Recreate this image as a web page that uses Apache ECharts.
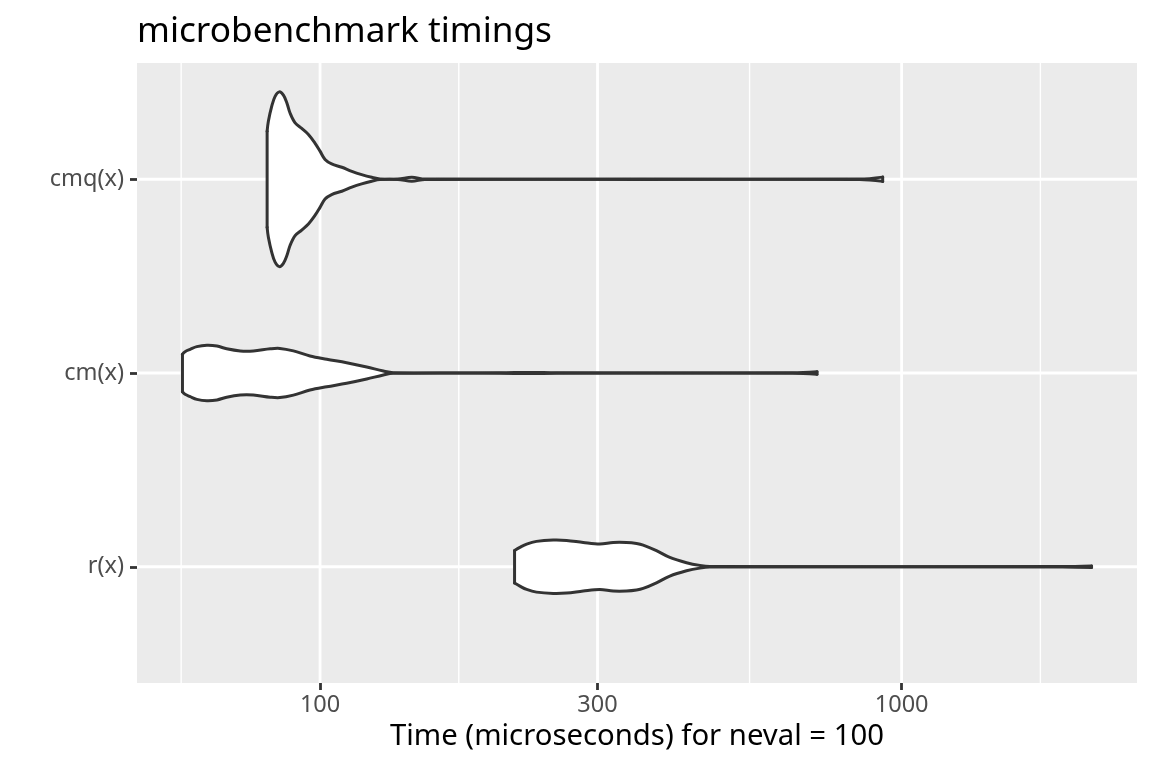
<!DOCTYPE html>
<html>
<head>
<meta charset="utf-8">
<script src="https://cdn.jsdelivr.net/npm/echarts@6/dist/echarts.min.js"></script>
<style>
  html, body { margin: 0; padding: 0; background: #ffffff; }
  #chart { width: 1152px; height: 768px; }
</style>
</head>
<body>
<div id="chart"></div>
<script>
// ---- data ----
const categories = ['r(x)', 'cm(x)', 'cmq(x)'];          // bottom to top
const xMajorBreaks = [100, 300, 1000];
const xTickLabels = ['100', '300', '1000'];
const xMinorBreaks = [57.7, 173.2, 547.7, 1732];

// times in microseconds, half widths in category units
const cmqTime = [81.1, 81.5, 82.6, 83.7, 85.1, 86.5, 87.7, 88.8, 90.6, 93.0, 95.5, 98.0, 100.0, 102.0, 104.7, 109.0, 113.4, 117.9, 122.7, 126.8, 136.1, 143.8, 151.5, 847, 927.7];
const cmqHalf = [0.248, 0.299, 0.377, 0.428, 0.451, 0.434, 0.394, 0.342, 0.291, 0.262, 0.231, 0.187, 0.145, 0.102, 0.079, 0.062, 0.041, 0.024, 0.010, 0.0015, 0.001, 0.010, 0.001, 0.001, 0.011];

const cmTime = [58.0, 58.6, 59.8, 61.4, 63.9, 66.5, 69.1, 72.9, 76.8, 82.1, 85.3, 90.0, 96.1, 102.7, 111.1, 120.3, 128.5, 133.6, 203.9, 229.6, 255, 649.6, 715.3];
const cmHalf = [0.097, 0.110, 0.122, 0.136, 0.143, 0.139, 0.125, 0.114, 0.114, 0.125, 0.127, 0.114, 0.088, 0.071, 0.053, 0.031, 0.010, 0.0015, 0.001, 0.003, 0.001, 0.001, 0.006];

const rTime = [216.0, 220.6, 226.6, 235.6, 251.7, 265.4, 283.5, 302.8, 319.2, 336.5, 350.1, 359.4, 378.8, 399.4, 426.7, 449.8, 468.0, 1891, 2121];
const rHalf = [0.084, 0.100, 0.117, 0.131, 0.138, 0.136, 0.125, 0.117, 0.125, 0.125, 0.120, 0.112, 0.083, 0.048, 0.021, 0.007, 0.0015, 0.001, 0.004];

// ---- build ----
const violins = [
  { cat: 'r(x)', time: rTime, half: rHalf },
  { cat: 'cm(x)', time: cmTime, half: cmHalf },
  { cat: 'cmq(x)', time: cmqTime, half: cmqHalf }
];
const lg = Math.log10;
const allT = [].concat(rTime, cmTime, cmqTime);
const lmin = lg(Math.min.apply(null, allT)), lmax = lg(Math.max.apply(null, allT));
const pad = 0.05 * (lmax - lmin);
const xMin = lmin - pad, xMax = lmax + pad;
const yMin = 0.4, yMax = categories.length + 0.6;
const catPos = c => categories.indexOf(c) + 1;

const gridLines = [];
xMinorBreaks.forEach(v => gridLines.push({ dir: 'x', v: lg(v), w: 1.4 }));
xMajorBreaks.forEach(v => gridLines.push({ dir: 'x', v: lg(v), w: 2.8 }));
categories.forEach(c => gridLines.push({ dir: 'y', v: catPos(c), w: 2.8 }));

const FONT = '"Noto Sans", "DejaVu Sans", sans-serif';
const STROKE = '#333333', LW = 3, SMOOTH = 0.35;
const chart = echarts.init(document.getElementById('chart'), null, { renderer: 'canvas' });
chart.setOption({
  animation: false,
  backgroundColor: '#ffffff',
  title: {
    text: 'microbenchmark timings',
    left: 132, top: 9,
    textStyle: { fontFamily: FONT, fontSize: 35.2, fontWeight: 'normal', color: '#000000' }
  },
  grid: { left: 137, right: 15, top: 63, bottom: 85, show: true, backgroundColor: '#EBEBEB', borderWidth: 0 },
  xAxis: {
    type: 'value', min: xMin, max: xMax,
    axisLine: { show: false },
    splitLine: { show: false },
    axisTick: { show: true, customValues: xMajorBreaks.map(lg), length: 7, lineStyle: { color: STROKE, width: 2.8 } },
    axisLabel: {
      customValues: xMajorBreaks.map(lg), margin: 10,
      fontFamily: FONT, fontSize: 23.5, color: '#4D4D4D',
      formatter: v => { const i = xMajorBreaks.findIndex(b => Math.abs(lg(b) - v) < 1e-6); return i >= 0 ? xTickLabels[i] : ''; }
    },
    name: 'Time (microseconds) for neval = 100',
    nameLocation: 'middle', nameGap: 38,
    nameTextStyle: { fontFamily: FONT, fontSize: 29.3, color: '#000000' }
  },
  yAxis: {
    type: 'value', min: yMin, max: yMax,
    axisLine: { show: false },
    splitLine: { show: false },
    axisTick: { show: true, customValues: categories.map(catPos), length: 7, lineStyle: { color: STROKE, width: 2.8 } },
    axisLabel: {
      customValues: categories.map(catPos), margin: 13,
      fontFamily: FONT, fontSize: 23.5, color: '#4D4D4D',
      formatter: v => categories[Math.round(v) - 1] || ''
    }
  },
  series: [
    {
      type: 'custom', coordinateSystem: 'cartesian2d', silent: true, z: 1,
      data: gridLines.map((g, i) => [i]),
      encode: { x: -1, y: -1 },
      renderItem: (params, api) => {
        const g = gridLines[params.dataIndex];
        const cs = params.coordSys;
        if (g.dir === 'x') {
          const x = api.coord([g.v, (yMin + yMax) / 2])[0];
          return { type: 'line', shape: { x1: x, y1: cs.y, x2: x, y2: cs.y + cs.height }, style: { stroke: '#ffffff', lineWidth: g.w } };
        }
        const y = api.coord([(xMin + xMax) / 2, g.v])[1];
        return { type: 'line', shape: { x1: cs.x, y1: y, x2: cs.x + cs.width, y2: y }, style: { stroke: '#ffffff', lineWidth: g.w } };
      }
    },
    {
      type: 'custom', coordinateSystem: 'cartesian2d', silent: true, z: 2, clip: true,
      data: violins.map((v, i) => [i]),
      encode: { x: -1, y: -1 },
      renderItem: (params, api) => {
        const v = violins[params.dataIndex];
        const yc = catPos(v.cat);
        const n = v.time.length;
        const upper = [], lower = [];
        for (let i = 0; i < n; i++) {
          upper.push(api.coord([lg(v.time[i]), yc + v.half[i]]));
          lower.push(api.coord([lg(v.time[i]), yc - v.half[i]]));
        }
        const outline = upper.concat(lower.slice().reverse());
        const lineStyle = { stroke: STROKE, lineWidth: LW, fill: null, lineJoin: 'round', lineCap: 'round' };
        return {
          type: 'group',
          children: [
            { type: 'polygon', shape: { points: outline, smooth: SMOOTH }, style: { fill: '#ffffff', stroke: null } },
            { type: 'polyline', shape: { points: upper, smooth: SMOOTH }, style: lineStyle },
            { type: 'polyline', shape: { points: lower, smooth: SMOOTH }, style: lineStyle },
            { type: 'line', shape: { x1: upper[0][0], y1: upper[0][1], x2: lower[0][0], y2: lower[0][1] }, style: lineStyle },
            { type: 'line', shape: { x1: upper[n - 1][0], y1: upper[n - 1][1], x2: lower[n - 1][0], y2: lower[n - 1][1] }, style: lineStyle }
          ]
        };
      }
    }
  ]
});
</script>
</body>
</html>
